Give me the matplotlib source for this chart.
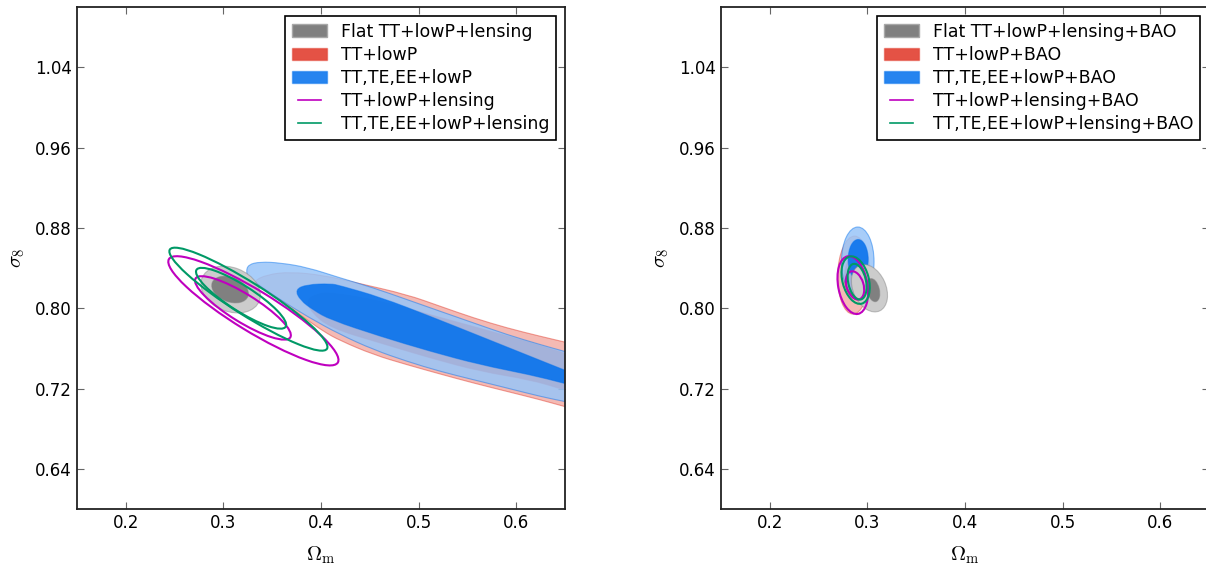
import numpy as np
import matplotlib
matplotlib.use('Agg')
import matplotlib.pyplot as plt
from matplotlib.patches import Ellipse, Patch, PathPatch
from matplotlib.lines import Line2D
from matplotlib.path import Path
from matplotlib.legend_handler import HandlerLine2D
from matplotlib.colors import to_rgba

plt.rcParams['font.family'] = 'DejaVu Sans'
plt.rcParams['mathtext.fontset'] = 'cm'

x_ticks = [0.2, 0.3, 0.4, 0.5, 0.6]
y_ticks = [0.64, 0.72, 0.80, 0.88, 0.96, 1.04]

left_labels = ['Flat TT+lowP+lensing', 'TT+lowP', 'TT,TE,EE+lowP',
               'TT+lowP+lensing', 'TT,TE,EE+lowP+lensing']
right_labels = ['Flat TT+lowP+lensing+BAO', 'TT+lowP+BAO', 'TT,TE,EE+lowP+BAO',
                'TT+lowP+lensing+BAO', 'TT,TE,EE+lowP+lensing+BAO']

# left panel, TT+lowP / TT,TE,EE+lowP outlines (Omega_m, sigma_8)
red_outer_x = [0.3308, 0.3446, 0.3685, 0.4026, 0.4369, 0.4882, 0.5223, 0.5565, 0.5907, 0.6249, 0.6495,
               0.75, 0.78, 0.75,
               0.6495, 0.6249, 0.5907, 0.5565, 0.5223, 0.4882, 0.4539, 0.4197, 0.4026, 0.3856, 0.3685, 0.3513, 0.3377]
red_outer_y = [0.8268, 0.8335, 0.8362, 0.8328, 0.8252, 0.8136, 0.8019, 0.7903, 0.7803, 0.7720, 0.7664,
               0.743, 0.710, 0.675,
               0.7021, 0.7088, 0.7171, 0.7254, 0.7344, 0.7437, 0.7537, 0.7677, 0.7769, 0.7886, 0.8003, 0.8136, 0.8219]
red_inner_x = [0.3850, 0.3950, 0.4095, 0.4608, 0.5121, 0.5633, 0.6146, 0.6488,
               0.72, 0.76, 0.72,
               0.6488, 0.6146, 0.5633, 0.5121, 0.4608, 0.4095, 0.3900]
red_inner_y = [0.8080, 0.8140, 0.8160, 0.8075, 0.7935, 0.7800, 0.7660, 0.7555,
               0.734, 0.715, 0.698,
               0.7188, 0.7287, 0.7370, 0.7503, 0.7653, 0.7803, 0.7960]
blue_outer_x = [0.3233, 0.3257, 0.3377, 0.3582, 0.3856, 0.4197, 0.4539, 0.4882, 0.5223, 0.5565, 0.5907, 0.6249, 0.6495,
                0.75, 0.78, 0.75,
                0.6495, 0.6249, 0.5907, 0.5565, 0.5223, 0.4882, 0.4539, 0.4197, 0.3856, 0.3582, 0.3377, 0.3257]
blue_outer_y = [0.8365, 0.8435, 0.8462, 0.8452, 0.8408, 0.8302, 0.8203, 0.8086, 0.7969, 0.7853, 0.7737, 0.7637, 0.7570,
                0.730, 0.708, 0.687,
                0.7071, 0.7121, 0.7205, 0.7287, 0.7370, 0.7470, 0.7587, 0.7737, 0.7919, 0.8086, 0.8219, 0.8302]
blue_inner_x = [0.3736, 0.3856, 0.4100, 0.4197, 0.4608, 0.5121, 0.5633, 0.6146, 0.6488,
                0.70, 0.735, 0.70,
                0.6488, 0.6146, 0.5633, 0.5121, 0.4608, 0.4095, 0.3924, 0.3787]
blue_inner_y = [0.8186, 0.8236, 0.8245, 0.8225, 0.8110, 0.7919, 0.7720, 0.7520, 0.7387,
                0.719, 0.709, 0.712,
                0.7254, 0.7337, 0.7437, 0.7570, 0.7720, 0.7886, 0.7980, 0.8080]

# ellipses: (centre Om, centre s8, half-extent Om, half-extent s8, correlation); [95%, 68%]
left_gray = [(0.3075, 0.8186, 0.0305, 0.0233, -0.24), (0.3069, 0.8186, 0.0188, 0.0133, -0.30)]
left_magenta = [(0.3308, 0.7974, 0.0872, 0.0544, -0.90), (0.3201, 0.8003, 0.0491, 0.0316, -0.86)]
left_green = [(0.3257, 0.8090, 0.0810, 0.0513, -0.928), (0.3182, 0.8099, 0.0462, 0.0303, -0.872)]

right_gray = [(0.3022, 0.8199, 0.0185, 0.0236, -0.30), (0.3060, 0.8180, 0.0068, 0.0115, -0.30)]
right_red = [(0.2861, 0.8330, 0.0165, 0.0388, 0.05), (0.2865, 0.8320, 0.0100, 0.0200, 0.05)]
right_blue = [(0.2902, 0.8464, 0.0167, 0.0345, 0.0), (0.2906, 0.8485, 0.0103, 0.0200, 0.0)]
right_magenta = [(0.2851, 0.8230, 0.0157, 0.0288, -0.25), (0.2874, 0.8227, 0.0094, 0.0141, -0.30)]
right_green = [(0.2880, 0.8280, 0.0145, 0.0237, -0.30), (0.2895, 0.8264, 0.0097, 0.0178, -0.30)]

GRAY, GRAY_L = '#808080', '#CCCCCC'
RED, RED_L = '#E03424', '#F3AEA7'
BLUE, BLUE_L = '#006FED', '#99C5F8'
MAG = '#BF00BF'
GREEN = '#009966'


def ellipse(params, **kw):
    cx, cy, xr, yr, rho = params
    cov = np.array([[xr ** 2, rho * xr * yr], [rho * xr * yr, yr ** 2]])
    vals, vecs = np.linalg.eigh(cov)
    angle = np.degrees(np.arctan2(vecs[1, 1], vecs[0, 1]))
    return Ellipse((cx, cy), 2 * np.sqrt(vals[1]), 2 * np.sqrt(vals[0]), angle=angle, **kw)


def outline(xs, ys):
    pts = np.column_stack([xs, ys])
    mids = (pts + np.roll(pts, -1, axis=0)) / 2
    verts, codes = [mids[-1]], [Path.MOVETO]
    for p, m in zip(pts, mids):
        verts += [p, m]
        codes += [Path.CURVE3, Path.CURVE3]
    return Path(verts, codes)


def filled(ax, shapes, base, light, alpha, z):
    outer, inner = shapes
    for shp, col in ((outer, light), (inner, base)):
        kw = dict(facecolor=to_rgba(col, alpha), edgecolor=to_rgba(base, 0.45), lw=0.8, zorder=z)
        if isinstance(shp, Path):
            ax.add_patch(PathPatch(shp, **kw))
        else:
            ax.add_patch(ellipse(shp, **kw))


def lines(ax, shapes, color, z):
    for shp in shapes:
        ax.add_patch(ellipse(shp, facecolor='none', edgecolor=color, lw=1.5, zorder=z))


class ShortLine(HandlerLine2D):
    def get_xdata(self, legend, xdescent, ydescent, width, height, fontsize):
        xd, xm = super().get_xdata(legend, xdescent, ydescent, width, height, fontsize)
        pad = 0.17 * width
        return [xd[0] + pad, xd[-1] - pad], xm


def style(ax, labels):
    ax.set_xlim(0.15, 0.65)
    ax.set_ylim(0.60, 1.10)
    ax.set_xticks(x_ticks)
    ax.set_xticklabels(['%g' % v for v in x_ticks])
    ax.set_yticks(y_ticks)
    ax.set_yticklabels(['%.2f' % v for v in y_ticks])
    ax.tick_params(direction='in', top=True, right=True, length=5, width=0.8,
                   color='#666666', labelsize=12)
    for s in ax.spines.values():
        s.set_linewidth(1.3)
        s.set_color('#222222')
    ax.set_xlabel(r'$\Omega_{\rm m}$', fontsize=15, labelpad=9)
    ax.set_ylabel(r'$\sigma_8$', fontsize=15, labelpad=6)
    handles = [Patch(facecolor=GRAY, edgecolor='#A8A8A8'),
               Patch(facecolor=to_rgba(RED, 0.85), edgecolor=to_rgba(RED, 0.45)),
               Patch(facecolor=to_rgba(BLUE, 0.85), edgecolor=to_rgba(BLUE, 0.45)),
               Line2D([], [], color=MAG, lw=1.2),
               Line2D([], [], color=GREEN, lw=1.2)]
    leg = ax.legend(handles, labels, loc='upper right', fontsize=12.5, fancybox=False,
                    edgecolor='black', framealpha=1, labelspacing=0.3, borderaxespad=0.5,
                    handler_map={Line2D: ShortLine()})
    leg.get_frame().set_linewidth(1.2)
    leg.set_zorder(20)


fig = plt.figure(figsize=(12.06, 5.70), dpi=100)
ax1 = fig.add_axes([0.0638, 0.1070, 0.4046, 0.8807])
ax2 = fig.add_axes([0.5978, 0.1070, 0.4046, 0.8807])

filled(ax1, (outline(red_outer_x, red_outer_y), outline(red_inner_x, red_inner_y)), RED, RED_L, 0.85, 1)
filled(ax1, (outline(blue_outer_x, blue_outer_y), outline(blue_inner_x, blue_inner_y)), BLUE, BLUE_L, 0.85, 2)
filled(ax1, left_gray, GRAY, GRAY_L, 1.0, 3)
lines(ax1, left_magenta, MAG, 4)
lines(ax1, left_green, GREEN, 5)
style(ax1, left_labels)

filled(ax2, right_red, RED, RED_L, 0.85, 1)
filled(ax2, right_blue, BLUE, BLUE_L, 0.85, 2)
filled(ax2, right_gray, GRAY, GRAY_L, 1.0, 3)
lines(ax2, right_magenta, MAG, 4)
lines(ax2, right_green, GREEN, 5)
style(ax2, right_labels)

fig.savefig('out.png', dpi=100)
